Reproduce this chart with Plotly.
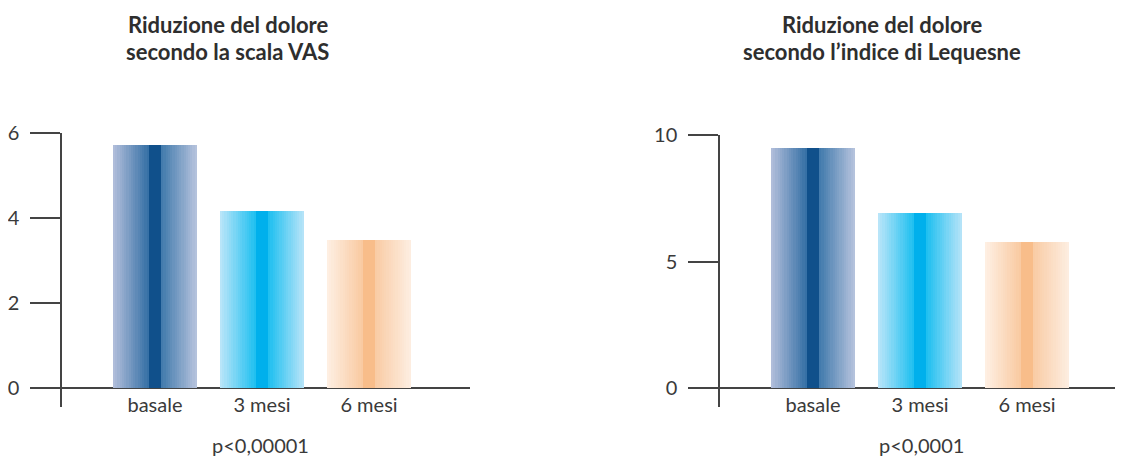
import plotly.graph_objects as go

# ---------------- data ----------------
categories = ["basale", "3 mesi", "6 mesi"]
vas_values = [5.72, 4.16, 3.48]
lequesne_values = [9.48, 6.91, 5.77]
vas_ticks = [0, 2, 4, 6]
lequesne_ticks = [0, 5, 10]
title_left = ["Riduzione del dolore", "secondo la scala VAS"]
title_right = ["Riduzione del dolore", "secondo l\u2019indice di Lequesne"]
p_left = "p<0,00001"
p_right = "p<0,0001"

# ---------------- style ----------------
PAGE_W, PAGE_H = 1123, 458
BODY = 8  # default page margin around the figure
W, H = PAGE_W - BODY, PAGE_H - BODY
FONT = "Lato"
TXT = "#3a3a3a"
AX = "#444444"

# gradient stops per category: left edge, near-stripe left, stripe, near-stripe right, right edge
GRAD = [
    ("#b4c0dc", "#336ea4", "#10508b", "#3f79ab", "#b8c4de"),
    ("#bde6f9", "#1cbff0", "#00b0ec", "#1bbff0", "#b9e4f8"),
    ("#fef0e4", "#f9c9a0", "#f8bd8a", "#f9cba3", "#fdeee2"),
]
BAR_W = 0.785
S0, S1 = 0.428, 0.572
NS = 16
OVER = 0.012


def hex2rgb(h):
    h = h.lstrip("#")
    return [int(h[i:i + 2], 16) for i in (0, 2, 4)]


def lerp(a, b, t):
    a, b = hex2rgb(a), hex2rgb(b)
    return "rgb(%d,%d,%d)" % tuple(round(a[i] + (b[i] - a[i]) * t) for i in range(3))


def px_x(x):
    return (x - BODY) / W


def px_y(y):
    return 1 - (y - BODY) / H


fig = go.Figure()


def add_bars(values, xa, ya):
    traces = []
    for k in range(NS):
        t0 = S0 * k / NS
        w = S0 / NS
        cols = [lerp(g[0], g[1], (k + 0.5) / NS) for g in GRAD]
        traces.append((t0, w + OVER, cols))
    for k in range(NS):
        t0 = 1 - (1 - S1) * (k + 1) / NS
        w = (1 - S1) / NS
        cols = [lerp(g[4], g[3], (k + 0.5) / NS) for g in GRAD]
        ov = OVER if k < NS - 1 else 0
        traces.append((t0 - ov, w + ov, cols))
    traces.append((S0, S1 - S0, [g[2] for g in GRAD]))
    for t0, w, cols in traces:
        fig.add_trace(go.Bar(
            x=categories, y=values,
            offset=-BAR_W / 2 + t0 * BAR_W,
            width=min(w, 1 - t0) * BAR_W,
            marker=dict(color=cols, line=dict(width=0)),
            xaxis=xa, yaxis=ya, showlegend=False, hoverinfo="skip",
        ))


add_bars(vas_values, "x", "y")
add_bars(lequesne_values, "x2", "y2")

zero_y = px_y(388)

common_y = dict(
    tickmode="array", ticks="outside", ticklen=30, tickwidth=1.5, tickcolor=AX,
    showline=True, linecolor=AX, linewidth=1.5, showgrid=False,
    zeroline=True, zerolinecolor=AX, zerolinewidth=2,
    tickfont=dict(family=FONT, size=20, color=TXT), ticklabelstandoff=7,
    fixedrange=True, automargin=False,
)
common_x = dict(
    type="category", showline=False, ticks="", showgrid=False, zeroline=False,
    tickfont=dict(family=FONT, size=20, color=TXT), anchor="free", position=zero_y,
    ticklabelstandoff=3, fixedrange=True, automargin=False,
)

fig.update_layout(
    template="none",
    width=W, height=H,
    margin=dict(l=0, r=0, t=0, b=0, pad=0),
    paper_bgcolor="white", plot_bgcolor="rgba(0,0,0,0)",
    barmode="overlay", bargap=0,
    xaxis=dict(domain=[px_x(62), px_x(470)], range=[-0.869, 2.944], **common_x),
    yaxis=dict(domain=[px_y(407), px_y(133)], range=[-0.447, 6], tickvals=vas_ticks,
               anchor="x", **common_y),
    xaxis2=dict(domain=[px_x(720), 1], range=[-0.869, 2.897], **common_x),
    yaxis2=dict(domain=[px_y(407), px_y(135)], range=[-0.751, 10], tickvals=lequesne_ticks,
                anchor="x2", **common_y),
)

ann = []
for cx, lines in ((228, title_left), (882, title_right)):
    for i, line in enumerate(lines):
        ann.append(dict(
            x=px_x(cx), y=px_y(24 + 27 * i), xref="paper", yref="paper",
            text="<b>%s</b>" % line, showarrow=False, xanchor="center", yanchor="middle",
            font=dict(family=FONT, size=22, color="#2e2e2e"),
        ))
for cx, txt in ((260, p_left), (922, p_right)):
    ann.append(dict(
        x=px_x(cx), y=px_y(445), xref="paper", yref="paper", text=txt,
        showarrow=False, xanchor="center", yanchor="middle",
        font=dict(family=FONT, size=20, color=TXT),
    ))
fig.update_layout(annotations=ann)

fig.write_html("out.html", config={"displayModeBar": False})
